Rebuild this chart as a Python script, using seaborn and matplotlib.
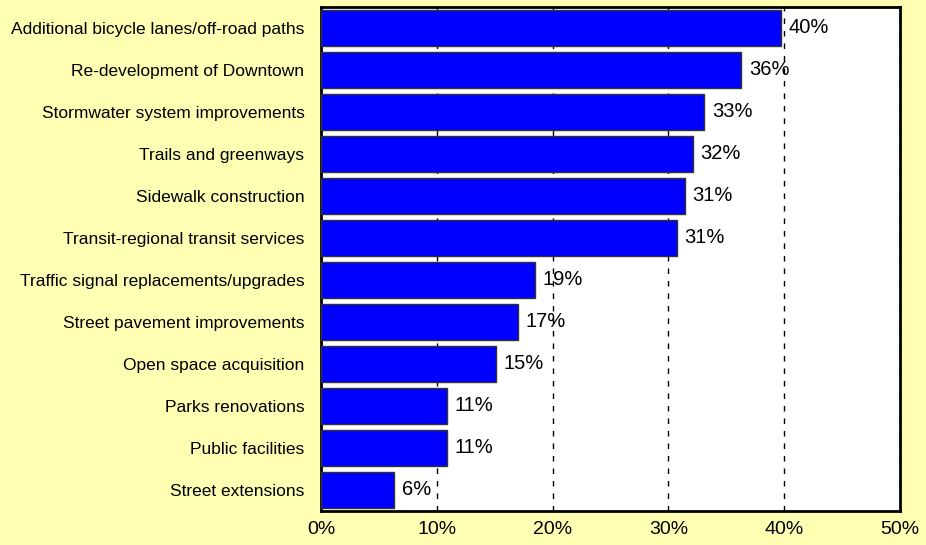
import numpy as np
import pandas as pd
import matplotlib.pyplot as plt
import seaborn as sns

categories = [
    "Additional bicycle lanes/off-road paths",
    "Re-development of Downtown",
    "Stormwater system improvements",
    "Trails and greenways",
    "Sidewalk construction",
    "Transit-regional transit services",
    "Traffic signal replacements/upgrades",
    "Street pavement improvements",
    "Open space acquisition",
    "Parks renovations",
    "Public facilities",
    "Street extensions",
]
values = [39.7, 36.3, 33.1, 32.1, 31.4, 30.7, 18.5, 17.0, 15.1, 10.9, 10.9, 6.3]
labels = ["40%", "36%", "33%", "32%", "31%", "31%", "19%", "17%", "15%", "11%", "11%", "6%"]
xticks = [0, 10, 20, 30, 40, 50]

df = pd.DataFrame({"item": categories, "pct": values})

sns.set_style("white")
plt.rcParams["font.family"] = ["Liberation Sans", "DejaVu Sans"]
plt.rcParams["text.color"] = "black"
plt.rcParams["xtick.color"] = "black"
plt.rcParams["ytick.color"] = "black"

fig = plt.figure(figsize=(9.26, 5.45), dpi=100, facecolor="#FFFFB4")
ax = fig.add_axes([0.3467, 0.0624, 0.6253, 0.9248])
ax.set_facecolor("white")

sns.barplot(data=df, x="pct", y="item", orient="h", color="#0000FF",
            saturation=1, width=0.86, edgecolor="#333333", linewidth=1,
            ax=ax, zorder=3)

for i, (v, lab) in enumerate(zip(values, labels)):
    ax.text(v + 0.65, i, lab, va="center", ha="left", fontsize=14.5,
            color="black", zorder=4)

ax.set_xlim(0, 50)
ax.set_xticks(xticks)
ax.set_xticklabels([f"{t}%" for t in xticks], fontsize=14)
ax.tick_params(axis="x", length=0, pad=7)
ax.tick_params(axis="y", length=0, pad=12, labelsize=12.5)
ax.set_xlabel("")
ax.set_ylabel("")
ax.xaxis.grid(True, color="black", linestyle=(0, (4, 5)), linewidth=1, zorder=1)
ax.set_axisbelow(True)
for s in ax.spines.values():
    s.set_color("black")
    s.set_linewidth(2)
    s.set_visible(True)

fig.savefig("out.png", dpi=100, facecolor=fig.get_facecolor())
